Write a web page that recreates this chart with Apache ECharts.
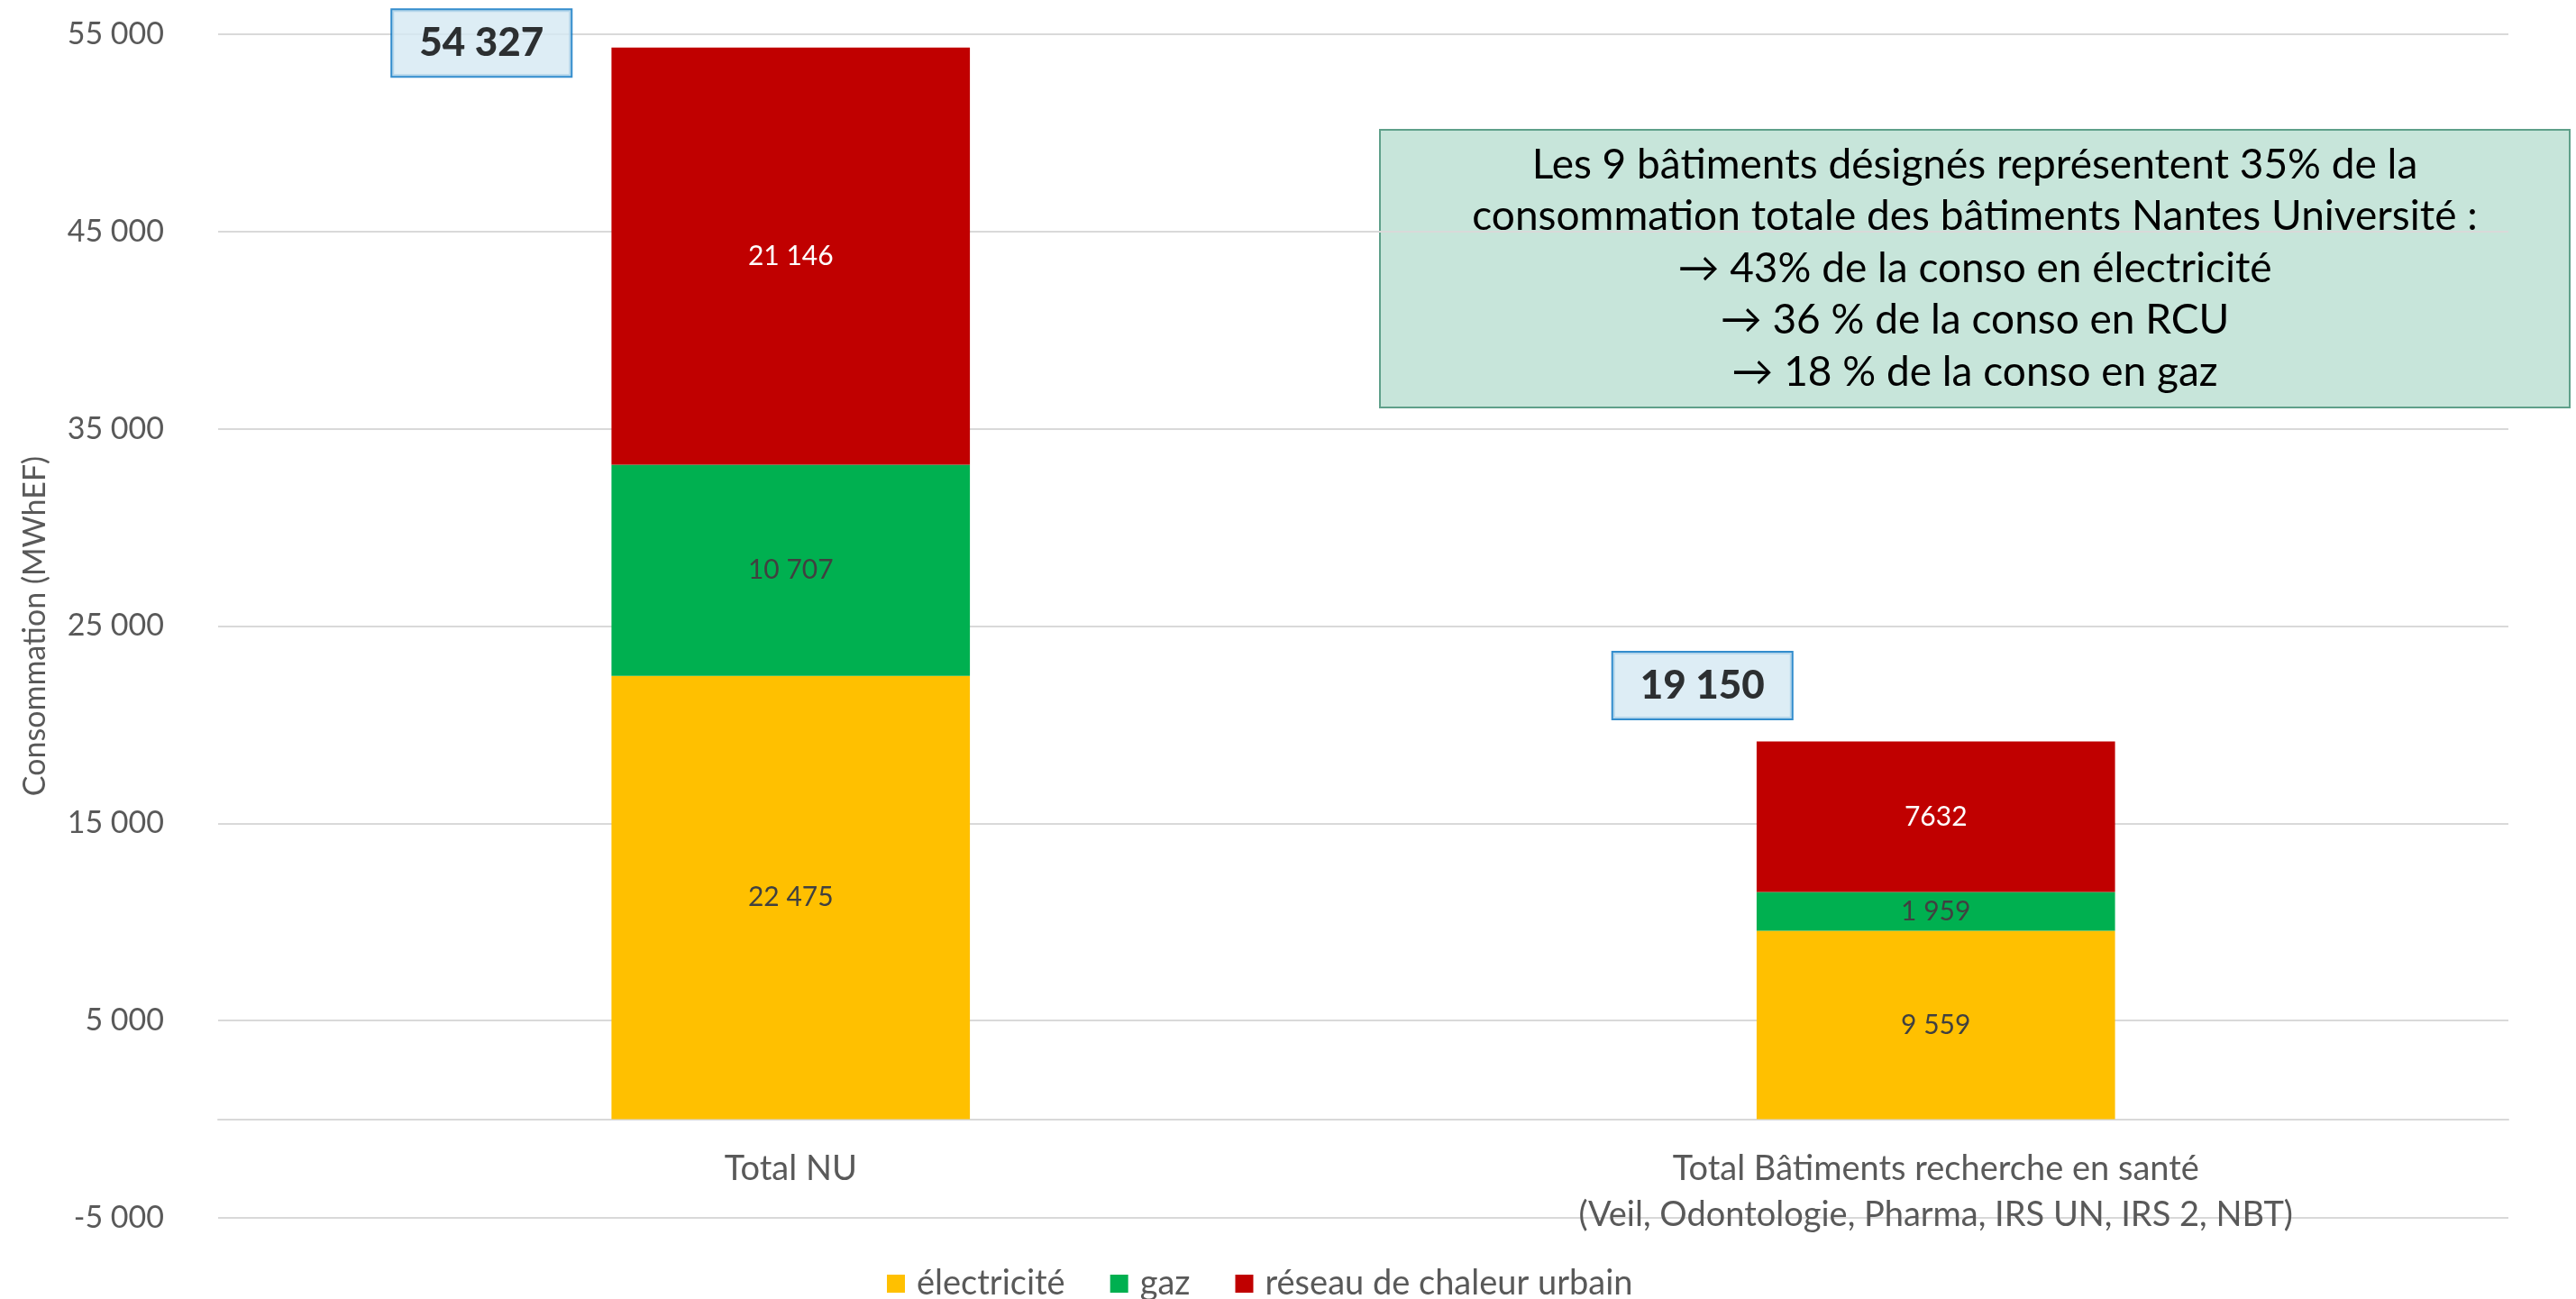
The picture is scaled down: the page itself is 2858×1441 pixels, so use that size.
<!DOCTYPE html>
<html>
    <head>
        <meta charset="utf-8">
        <script src="https://cdn.jsdelivr.net/npm/echarts@6/dist/echarts.min.js"></script>
    </head>
    <body>
        <style>
            html, body, #main {
                width: 100%;
                height: 100%;
                margin: 0;
                background: #fff;
            }
        </style>
        <div id="main"></div>
        <script>
            var categories = ['Total NU', 'Total Bâtiments recherche en santé\n(Veil, Odontologie, Pharma, IRS UN, IRS 2, NBT)'];
            var electricite = [22475, 9559];
            var gaz = [10707, 1959];
            var rcu = [21146, 7632];
            // totals as printed on the chart
            var totals = [54327, 19150];
            var yTicks = { min: -5000, max: 55000, interval: 10000 };
            var noteLines = [
                'Les 9 bâtiments désignés représentent 35% de la',
                'consommation totale des bâtiments Nantes Université :',
                '→ 43% de la conso en électricité',
                '→ 36 % de la conso en RCU',
                '→ 18 % de la conso en gaz'
            ];

            var FONT = 'Lato';
            var GRID = { left: 242, right: 75, top: 38, bottom: 90 };

            function fmt(v) {
                return String(v).replace(/\B(?=(\d{3})+(?!\d))/g, ' ');
            }

            var chart = echarts.init(document.getElementById('main'));

            // the category axis sits on y = 0, labels included (Excel style)
            var plotHeight = chart.getHeight() - GRID.top - GRID.bottom;
            var zeroOffset = -plotHeight * (0 - yTicks.min) / (yTicks.max - yTicks.min);

            function segLabel(color, raw) {
                return {
                    show: true,
                    position: 'inside',
                    fontFamily: FONT,
                    fontSize: 30,
                    color: color,
                    formatter: function (p) {
                        return raw && p.value < 10000 ? String(p.value) : fmt(p.value);
                    }
                };
            }

            // label boxes for the totals, placed up-left of each bar like the original
            var totalOffsets = [[-343, -5], [-259, -62]];

            chart.setOption({
                animation: false,
                textStyle: { fontFamily: FONT },
                grid: {
                    left: GRID.left,
                    right: GRID.right,
                    top: GRID.top,
                    bottom: GRID.bottom,
                    containLabel: false,
                    outerBoundsMode: 'none'
                },
                legend: {
                    data: ['électricité', 'gaz', 'réseau de chaleur urbain'],
                    top: 1400,
                    left: 979,
                    icon: 'rect',
                    itemWidth: 20,
                    itemHeight: 20,
                    itemGap: 50,
                    textStyle: { fontFamily: FONT, fontSize: 38, color: '#595959', padding: [0, 0, 0, 8] }
                },
                xAxis: {
                    type: 'category',
                    data: categories,
                    offset: zeroOffset,
                    axisLine: { onZero: false, lineStyle: { color: '#D9D9D9', width: 2 } },
                    axisTick: { show: false },
                    axisLabel: {
                        fontFamily: FONT,
                        fontSize: 38,
                        color: '#595959',
                        lineHeight: 51,
                        margin: 30
                    }
                },
                yAxis: {
                    type: 'value',
                    min: yTicks.min,
                    max: yTicks.max,
                    interval: yTicks.interval,
                    name: 'Consommation (MWhEF)',
                    nameLocation: 'middle',
                    nameGap: 186,
                    nameTextStyle: { fontFamily: FONT, fontSize: 34, color: '#595959' },
                    axisLine: { show: false },
                    axisTick: { show: false },
                    axisLabel: {
                        fontFamily: FONT,
                        fontSize: 34,
                        color: '#595959',
                        margin: 60,
                        formatter: function (v) { return fmt(v); }
                    },
                    splitLine: { lineStyle: { color: '#D9D9D9', width: 2 } }
                },
                series: [
                    {
                        name: 'électricité',
                        type: 'bar',
                        stack: 'total',
                        barWidth: '31.3%',
                        data: electricite,
                        itemStyle: { color: '#FFC000' },
                        label: segLabel('#404040')
                    },
                    {
                        name: 'gaz',
                        type: 'bar',
                        stack: 'total',
                        data: gaz,
                        itemStyle: { color: '#00B050' },
                        label: segLabel('#404040')
                    },
                    {
                        name: 'réseau de chaleur urbain',
                        type: 'bar',
                        stack: 'total',
                        data: rcu,
                        itemStyle: { color: '#C00000' },
                        label: segLabel('#FFFFFF', true)
                    },
                    {
                        name: 'total',
                        type: 'scatter',
                        symbolSize: 0,
                        silent: true,
                        data: totals.map(function (t, i) {
                            return {
                                value: t,
                                label: { offset: totalOffsets[i] }
                            };
                        }),
                        label: {
                            show: true,
                            position: 'inside',
                            fontFamily: FONT,
                            fontSize: 44,
                            fontWeight: 900,
                            color: '#000',
                            backgroundColor: '#D5E9F2',
                            borderColor: '#0070C0',
                            borderWidth: 2,
                            padding: [16, 30, 13, 30],
                            formatter: function (p) { return fmt(p.value); }
                        }
                    }
                ],
                graphic: [
                    {
                        type: 'rect',
                        shape: { x: 1531, y: 144, width: 1320, height: 308 },
                        style: { fill: '#C7E5DA', stroke: '#5FA08A', lineWidth: 2 }
                    },
                    {
                        type: 'text',
                        x: 2191,
                        y: 298,
                        style: {
                            text: noteLines.join('\n'),
                            fontFamily: FONT,
                            fontSize: 46,
                            lineHeight: 57.5,
                            fill: '#000',
                            align: 'center',
                            verticalAlign: 'middle'
                        }
                    }
                ]
            });
        </script>
    </body>
</html>
